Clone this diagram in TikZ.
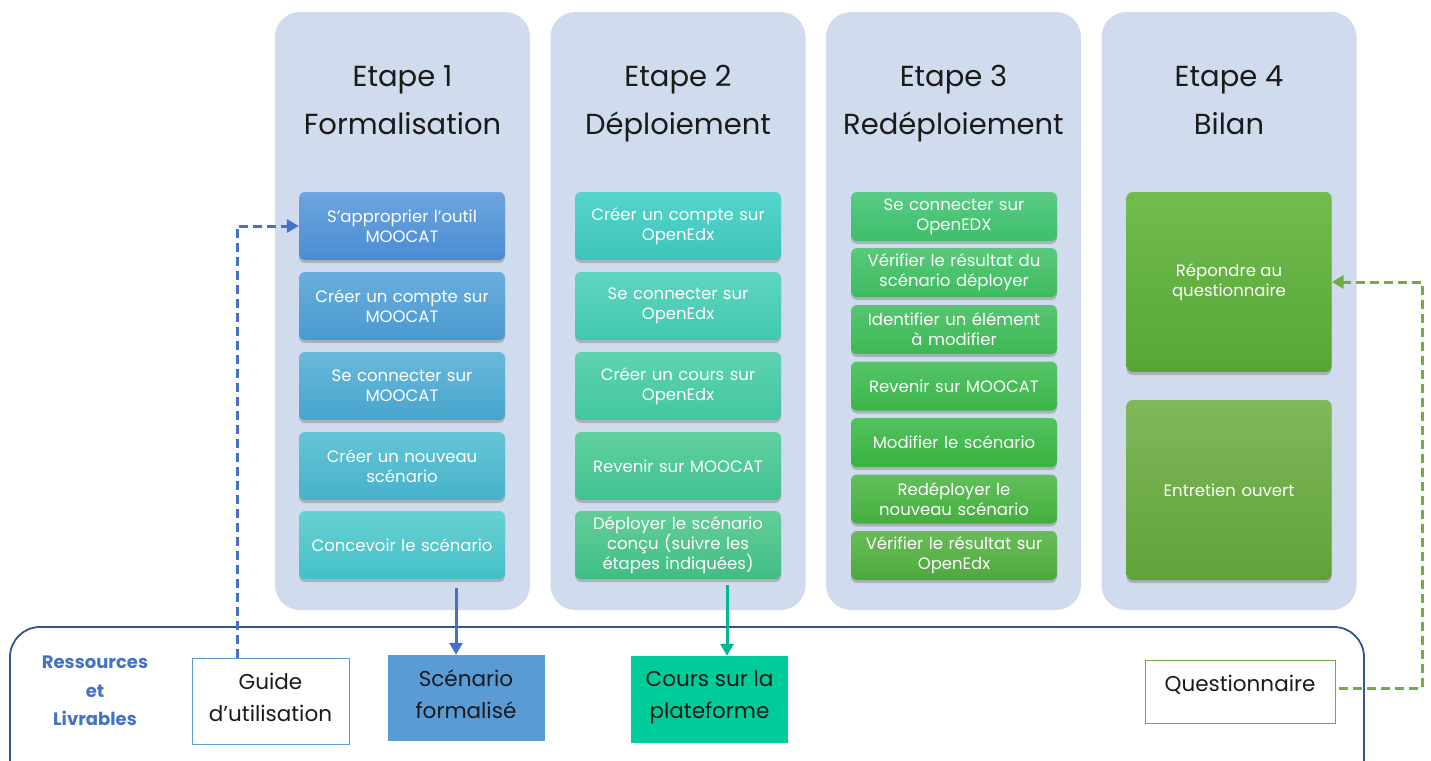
\documentclass[tikz,border=0pt]{standalone}
\usepackage{fontspec}
\setmainfont{Poppins}
\usetikzlibrary{shadows,arrows.meta}
\definecolor{panelcol}{HTML}{D0DCEE}
\definecolor{contcol}{HTML}{2F5597}
\definecolor{blueacc}{HTML}{4472C4}
\definecolor{scencol}{HTML}{5B9BD5}
\definecolor{courscol}{HTML}{00CC99}
\definecolor{tealarrow}{HTML}{00B890}
\definecolor{greenacc}{HTML}{70AD47}
\definecolor{darktext}{HTML}{1A1A1A}
\tikzset{
  panel/.style={fill=panelcol, rounded corners=25pt, minimum width=255pt, minimum height=598pt, inner sep=0pt},
  titletext/.style={align=center, font=\fontsize{29}{48}\selectfont, text=darktext, text depth=0pt},
  stepbox/.style={rounded corners=6pt, minimum width=206pt, text width=200pt, inner sep=0pt, align=center, text=white,
    font=\fontsize{16.5}{20}\selectfont, drop shadow={shadow xshift=0pt, shadow yshift=-3pt, opacity=0.45}},
  sbox/.style={stepbox, minimum height=68pt},
  tbox/.style={stepbox, minimum height=49pt},
  bbox/.style={stepbox, minimum height=180pt},
  gr/.style 2 args={/utils/exec={\definecolor{gtop}{HTML}{#1}\definecolor{gbot}{HTML}{#2}}, top color=gtop, bottom color=gbot},
  outbox/.style={minimum width=157pt, minimum height=86pt, inner sep=0pt, align=center, text=darktext,
    font=\fontsize{21.5}{32}\selectfont},
  outtext/.style={align=center, text=darktext, font=\fontsize{21.5}{32}\selectfont},
  conn/.style={line width=3pt, -{Triangle[length=12pt,width=13pt]}},
  dashedconn/.style={conn, dash pattern=on 9pt off 5pt}
}
\begin{document}
\begin{tikzpicture}[x=1pt,y=-1pt]
\useasboundingbox (0,0) rectangle (1431,760);
% panels
\node[panel] (p1) at (402.5,311) {};
\node[panel] (p2) at (678,311) {};
\node[panel] (p3) at (953.5,311) {};
\node[panel] (p4) at (1229,311) {};
% titles
\node[titletext] (t1) at (402.5,100) {Etape 1\\Formalisation};
\node[titletext] (t2) at (678,100) {Etape 2\\Déploiement};
\node[titletext] (t3) at (953.5,100) {Etape 3\\Redéploiement};
\node[titletext] (t4) at (1229,100) {Etape 4\\Bilan};
% column 1
\node[sbox, gr={6DA6E0}{4A8BD2}] (b11) at (402,226) {S'approprier l'outil\\MOOCAT};
\node[sbox, gr={6AAEDD}{4A99CF}] (b12) at (402,306) {Créer un compte sur\\MOOCAT};
\node[sbox, gr={69B8DC}{47A5CC}] (b13) at (402,386) {Se connecter sur\\MOOCAT};
\node[sbox, gr={67C4D6}{45B2CB}] (b14) at (402,466) {Créer un nouveau\\scénario};
\node[sbox, gr={68D0D2}{44C0C8}] (b15) at (402,545) {Concevoir le scénario};
% column 2
\node[sbox, gr={55D5CC}{3EC4BA}] (b21) at (678,226) {Créer un compte sur\\OpenEdx};
\node[sbox, gr={5ED5C0}{42C8B0}] (b22) at (678,306) {Se connecter sur\\OpenEdx};
\node[sbox, gr={5ED3B0}{42C6A0}] (b23) at (678,386) {Créer un cours sur\\OpenEdx};
\node[sbox, gr={60D0A2}{42C290}] (b24) at (678,466) {Revenir sur MOOCAT};
\node[sbox, gr={62CE98}{40BE84}] (b25) at (678,545) {Déployer le scénario\\conçu (suivre les\\étapes indiquées)};
% column 3
\node[tbox, gr={5ACB86}{3EBE6A}] (b31) at (954,216.5) {Se connecter sur\\OpenEDX};
\node[tbox, gr={5AC97C}{3EBB5E}] (b32) at (954,272.5) {Vérifier le résultat du\\scénario déployer};
\node[tbox, gr={58C672}{3CB852}] (b33) at (954,329.5) {Identifier un élément\\à modifier};
\node[tbox, gr={56C468}{3AB548}] (b34) at (954,386) {Revenir sur MOOCAT};
\node[tbox, gr={52C25E}{38B23E}] (b35) at (954,442.5) {Modifier le scénario};
\node[tbox, gr={62C05A}{44AE3E}] (b36) at (954,499) {Redéployer le\\nouveau scénario};
\node[tbox, gr={6ABC58}{4EA83E}] (b37) at (954,555.5) {Vérifier le résultat sur\\OpenEdx};
% column 4
\node[bbox, minimum width=205pt, gr={72BC4E}{56A638}] (b41) at (1229,282) {};
\node[text=white, font=\fontsize{16.5}{20}\selectfont, align=center] (b41t) at (1229,282) {Répondre au\\questionnaire};
\node[bbox, minimum width=205pt, gr={80B85A}{60A23A}] (b42) at (1229,490) {Entretien ouvert};
% container
\draw[contcol, line width=1.8pt, rounded corners=30pt] (10,790) -- (10,627) -- (1364,627) -- (1364,790);
\node[align=center, text=blueacc, font=\bfseries\fontsize{18}{28.5}\selectfont] (res) at (95,691) {Ressources\\et\\Livrables};
% outputs
\node[outbox, draw=scencol, line width=0.8pt, fill=white] (guide) at (270.5,701) {};
\node[outtext] (guidet) at (270.5,697) {Guide\\d’utilisation};
\node[outbox, fill=scencol] (scen) at (466,698) {};
\node[outtext] (scent) at (466,694) {Scénario\\formalisé};
\node[outbox, fill=courscol, minimum height=87pt] (cours) at (709.5,699.5) {};
\node[outtext] (courst) at (709.5,697) {Cours sur la\\plateforme};
\node[outbox, draw=greenacc, line width=0.8pt, fill=white, minimum width=190pt, minimum height=63pt] (quest) at (1240,691.5) {};
\node[outtext] (questt) at (1240,685) {Questionnaire};
% connectors
\coordinate (gstart) at ([xshift=-33.5pt]guide.north);
\draw[dashedconn, blueacc] (gstart) |- (b11.west);
\coordinate (c1) at (456,588);
\draw[conn, blueacc] (c1) -- (c1 |- scen.north);
\coordinate (c2) at (727,585);
\draw[conn, tealarrow] (c2) -- (c2 |- cours.north);
\coordinate (qturn) at (1422,688);
\draw[dashedconn, greenacc] ([xshift=4pt]quest.east |- qturn) -- (qturn) |- (b41.east);
\end{tikzpicture}
\end{document}
